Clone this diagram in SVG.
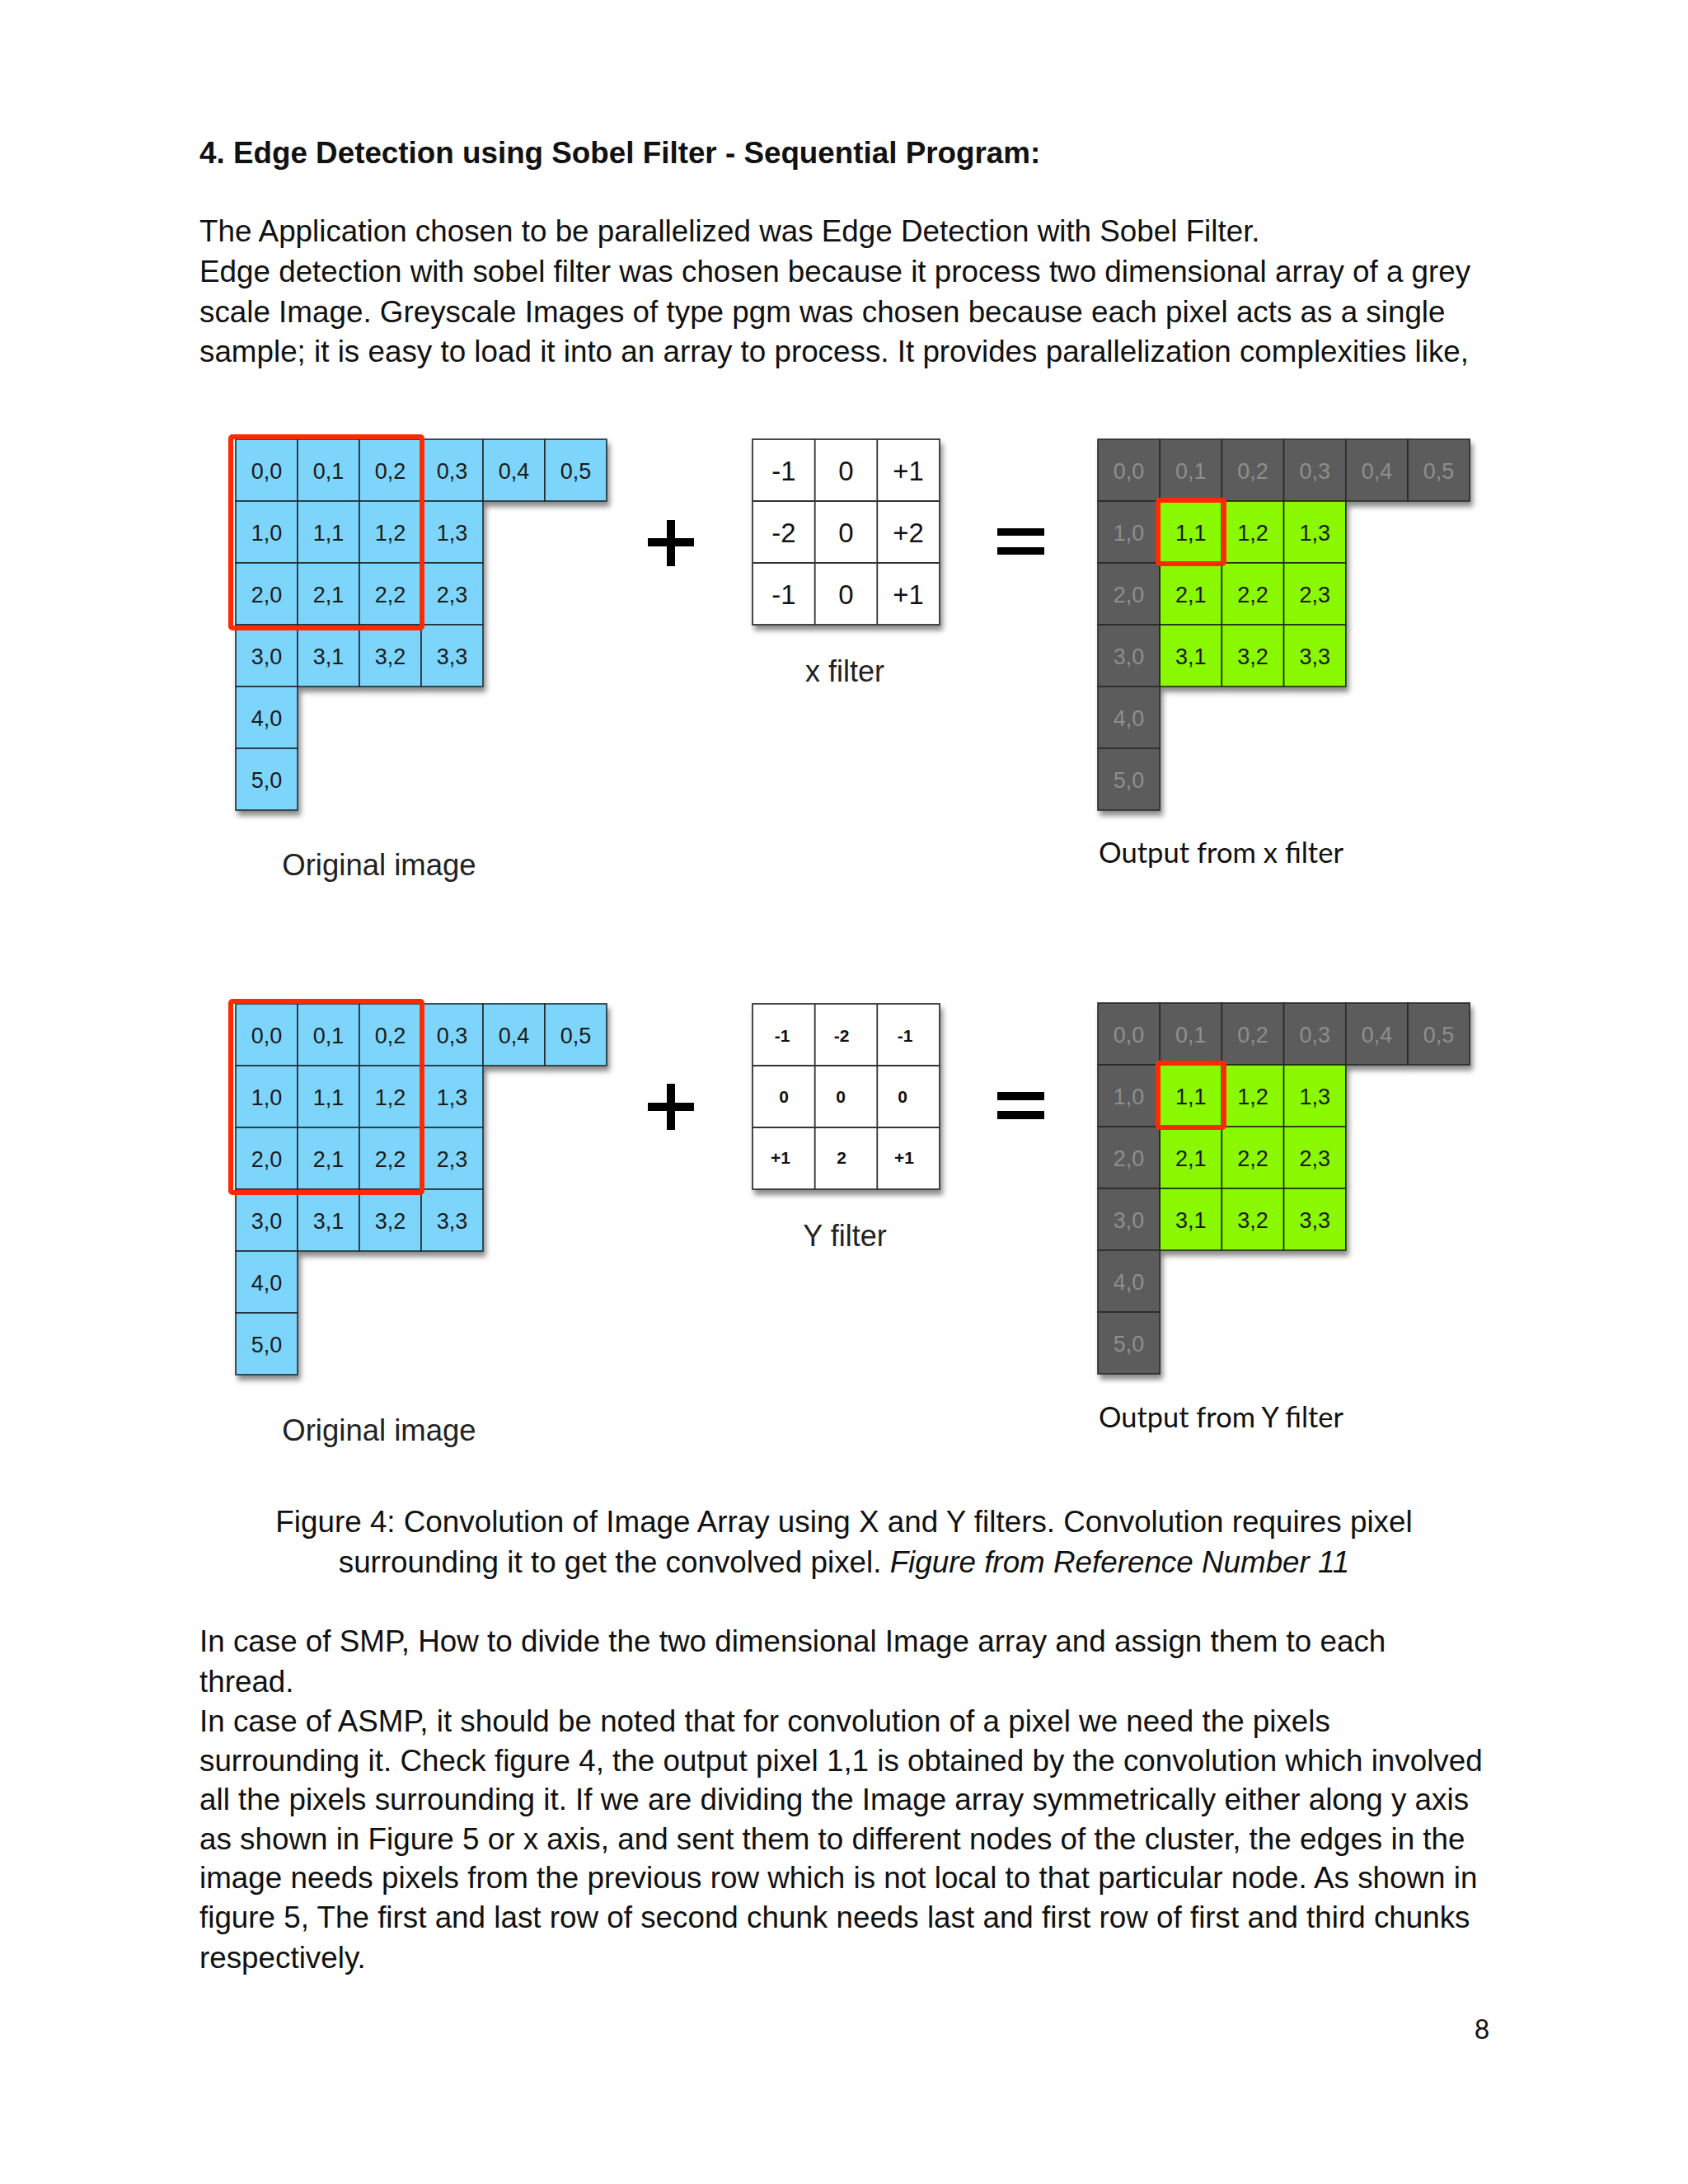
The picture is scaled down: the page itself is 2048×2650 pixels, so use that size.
<svg xmlns="http://www.w3.org/2000/svg" width="2048" height="2650" viewBox="0 0 2048 2650">
<defs>
<style>
.body{font-family:"Liberation Sans",Arial,sans-serif;font-size:36.8px;fill:#111}
.title{font-family:"Liberation Sans",Arial,sans-serif;font-size:36.8px;font-weight:bold;fill:#111}
.b{fill:#7dd5fb;stroke:#1e2a30;stroke-width:1.6}
.g{fill:#5c5c5c;stroke:#2a2a2a;stroke-width:1.6}
.gr{fill:#8af800;stroke:#1e2a10;stroke-width:1.6}
.w{fill:#fff;stroke:#333;stroke-width:1.8}
.ct{font-family:"Liberation Sans",Arial,sans-serif;font-size:27px;fill:#1a1a1a;text-anchor:middle}
.cg{font-family:"Liberation Sans",Arial,sans-serif;font-size:27px;fill:#8e8e8e;text-anchor:middle}
.ft{font-family:"Liberation Sans",Arial,sans-serif;font-size:33px;fill:#111;text-anchor:middle}
.fy{font-family:"Liberation Sans",Arial,sans-serif;font-size:21px;font-weight:bold;fill:#111;text-anchor:middle}
.lab{font-family:"Liberation Sans",Arial,sans-serif;font-size:36.5px;fill:#222;text-anchor:middle}
.olab{font-family:Lato,"Liberation Sans",sans-serif;font-size:34px;fill:#111}
.red{fill:none;stroke:#ff2a00;stroke-width:6}
.sym{fill:#000}
</style>
<filter id="sh" x="-10%" y="-10%" width="125%" height="125%">
<feDropShadow dx="3" dy="6" stdDeviation="3" flood-color="#000" flood-opacity="0.45"/>
</filter>
</defs>
<rect width="2048" height="2650" fill="#ffffff"/>

<g id="text-top">
<text class="title" x="242" y="198">4. Edge Detection using Sobel Filter - Sequential Program:</text>
<text class="body" x="242" y="293">The Application chosen to be parallelized was Edge Detection with Sobel Filter.</text>
<text class="body" x="242" y="342">Edge detection with sobel filter was chosen because it process two dimensional array of a grey</text>
<text class="body" x="242" y="391">scale Image. Greyscale Images of type pgm was chosen because each pixel acts as a single</text>
<text class="body" x="242" y="439">sample; it is easy to load it into an array to process.  It provides parallelization complexities like,</text>
</g>

<!-- Original image (top) -->
<g id="orig1">
<g filter="url(#sh)">
<rect class="b" x="286" y="533" width="75" height="75"/><rect class="b" x="361" y="533" width="75" height="75"/><rect class="b" x="436" y="533" width="75" height="75"/><rect class="b" x="511" y="533" width="75" height="75"/><rect class="b" x="586" y="533" width="75" height="75"/><rect class="b" x="661" y="533" width="75" height="75"/>
<rect class="b" x="286" y="608" width="75" height="75"/><rect class="b" x="361" y="608" width="75" height="75"/><rect class="b" x="436" y="608" width="75" height="75"/><rect class="b" x="511" y="608" width="75" height="75"/>
<rect class="b" x="286" y="683" width="75" height="75"/><rect class="b" x="361" y="683" width="75" height="75"/><rect class="b" x="436" y="683" width="75" height="75"/><rect class="b" x="511" y="683" width="75" height="75"/>
<rect class="b" x="286" y="758" width="75" height="75"/><rect class="b" x="361" y="758" width="75" height="75"/><rect class="b" x="436" y="758" width="75" height="75"/><rect class="b" x="511" y="758" width="75" height="75"/>
<rect class="b" x="286" y="833" width="75" height="75"/>
<rect class="b" x="286" y="908" width="75" height="75"/>
</g>
<text class="ct" x="323.5" y="581">0,0</text><text class="ct" x="398.5" y="581">0,1</text><text class="ct" x="473.5" y="581">0,2</text><text class="ct" x="548.5" y="581">0,3</text><text class="ct" x="623.5" y="581">0,4</text><text class="ct" x="698.5" y="581">0,5</text>
<text class="ct" x="323.5" y="656">1,0</text><text class="ct" x="398.5" y="656">1,1</text><text class="ct" x="473.5" y="656">1,2</text><text class="ct" x="548.5" y="656">1,3</text>
<text class="ct" x="323.5" y="731">2,0</text><text class="ct" x="398.5" y="731">2,1</text><text class="ct" x="473.5" y="731">2,2</text><text class="ct" x="548.5" y="731">2,3</text>
<text class="ct" x="323.5" y="806">3,0</text><text class="ct" x="398.5" y="806">3,1</text><text class="ct" x="473.5" y="806">3,2</text><text class="ct" x="548.5" y="806">3,3</text>
<text class="ct" x="323.5" y="881">4,0</text>
<text class="ct" x="323.5" y="956">5,0</text>
<rect class="red" x="280" y="530" width="232" height="232" rx="2"/>
<text class="lab" x="460" y="1062">Original image</text>
</g>

<g id="plus1"><rect class="sym" x="786" y="653" width="56" height="10"/><rect class="sym" x="809" y="631" width="10" height="56"/></g>

<!-- x filter -->
<g id="xfilter">
<g filter="url(#sh)">
<rect class="w" x="913" y="533" width="227" height="225"/>
</g>
<path d="M988.7 533V758M1064.3 533V758M913 608H1140M913 683H1140" stroke="#333" stroke-width="1.8" fill="none"/>
<text class="ft" x="951" y="583">-1</text><text class="ft" x="1026.5" y="583">0</text><text class="ft" x="1102" y="583">+1</text>
<text class="ft" x="951" y="658">-2</text><text class="ft" x="1026.5" y="658">0</text><text class="ft" x="1102" y="658">+2</text>
<text class="ft" x="951" y="733">-1</text><text class="ft" x="1026.5" y="733">0</text><text class="ft" x="1102" y="733">+1</text>
<text class="lab" x="1025" y="827" style="font-size:36px">x filter</text>
</g>

<g id="eq1"><rect class="sym" x="1210" y="641" width="57" height="9"/><rect class="sym" x="1210" y="664" width="57" height="9"/></g>

<!-- Output from x filter -->
<g id="outx">
<g filter="url(#sh)">
<rect class="g" x="1332" y="533" width="75.2" height="75"/><rect class="g" x="1407.2" y="533" width="75.2" height="75"/><rect class="g" x="1482.4" y="533" width="75.2" height="75"/><rect class="g" x="1557.6" y="533" width="75.2" height="75"/><rect class="g" x="1632.8" y="533" width="75.2" height="75"/><rect class="g" x="1708" y="533" width="75.2" height="75"/>
<rect class="g" x="1332" y="608" width="75.2" height="75"/><rect class="gr" x="1407.2" y="608" width="75.2" height="75"/><rect class="gr" x="1482.4" y="608" width="75.2" height="75"/><rect class="gr" x="1557.6" y="608" width="75.2" height="75"/>
<rect class="g" x="1332" y="683" width="75.2" height="75"/><rect class="gr" x="1407.2" y="683" width="75.2" height="75"/><rect class="gr" x="1482.4" y="683" width="75.2" height="75"/><rect class="gr" x="1557.6" y="683" width="75.2" height="75"/>
<rect class="g" x="1332" y="758" width="75.2" height="75"/><rect class="gr" x="1407.2" y="758" width="75.2" height="75"/><rect class="gr" x="1482.4" y="758" width="75.2" height="75"/><rect class="gr" x="1557.6" y="758" width="75.2" height="75"/>
<rect class="g" x="1332" y="833" width="75.2" height="75"/>
<rect class="g" x="1332" y="908" width="75.2" height="75"/>
</g>
<text class="cg" x="1369.6" y="581">0,0</text><text class="cg" x="1444.8" y="581">0,1</text><text class="cg" x="1520" y="581">0,2</text><text class="cg" x="1595.2" y="581">0,3</text><text class="cg" x="1670.4" y="581">0,4</text><text class="cg" x="1745.6" y="581">0,5</text>
<text class="cg" x="1369.6" y="656">1,0</text><text class="ct" x="1444.8" y="656">1,1</text><text class="ct" x="1520" y="656">1,2</text><text class="ct" x="1595.2" y="656">1,3</text>
<text class="cg" x="1369.6" y="731">2,0</text><text class="ct" x="1444.8" y="731">2,1</text><text class="ct" x="1520" y="731">2,2</text><text class="ct" x="1595.2" y="731">2,3</text>
<text class="cg" x="1369.6" y="806">3,0</text><text class="ct" x="1444.8" y="806">3,1</text><text class="ct" x="1520" y="806">3,2</text><text class="ct" x="1595.2" y="806">3,3</text>
<text class="cg" x="1369.6" y="881">4,0</text>
<text class="cg" x="1369.6" y="956">5,0</text>
<rect class="red" x="1405" y="607" width="80" height="77" rx="2"/>
<text class="olab" x="1333" y="1047" textLength="297" lengthAdjust="spacingAndGlyphs">Output from x filter</text>
</g>

<!-- Original image (bottom) -->
<g id="orig2">
<g filter="url(#sh)">
<rect class="b" x="286" y="1218" width="75" height="75"/><rect class="b" x="361" y="1218" width="75" height="75"/><rect class="b" x="436" y="1218" width="75" height="75"/><rect class="b" x="511" y="1218" width="75" height="75"/><rect class="b" x="586" y="1218" width="75" height="75"/><rect class="b" x="661" y="1218" width="75" height="75"/>
<rect class="b" x="286" y="1293" width="75" height="75"/><rect class="b" x="361" y="1293" width="75" height="75"/><rect class="b" x="436" y="1293" width="75" height="75"/><rect class="b" x="511" y="1293" width="75" height="75"/>
<rect class="b" x="286" y="1368" width="75" height="75"/><rect class="b" x="361" y="1368" width="75" height="75"/><rect class="b" x="436" y="1368" width="75" height="75"/><rect class="b" x="511" y="1368" width="75" height="75"/>
<rect class="b" x="286" y="1443" width="75" height="75"/><rect class="b" x="361" y="1443" width="75" height="75"/><rect class="b" x="436" y="1443" width="75" height="75"/><rect class="b" x="511" y="1443" width="75" height="75"/>
<rect class="b" x="286" y="1518" width="75" height="75"/>
<rect class="b" x="286" y="1593" width="75" height="75"/>
</g>
<text class="ct" x="323.5" y="1266">0,0</text><text class="ct" x="398.5" y="1266">0,1</text><text class="ct" x="473.5" y="1266">0,2</text><text class="ct" x="548.5" y="1266">0,3</text><text class="ct" x="623.5" y="1266">0,4</text><text class="ct" x="698.5" y="1266">0,5</text>
<text class="ct" x="323.5" y="1341">1,0</text><text class="ct" x="398.5" y="1341">1,1</text><text class="ct" x="473.5" y="1341">1,2</text><text class="ct" x="548.5" y="1341">1,3</text>
<text class="ct" x="323.5" y="1416">2,0</text><text class="ct" x="398.5" y="1416">2,1</text><text class="ct" x="473.5" y="1416">2,2</text><text class="ct" x="548.5" y="1416">2,3</text>
<text class="ct" x="323.5" y="1491">3,0</text><text class="ct" x="398.5" y="1491">3,1</text><text class="ct" x="473.5" y="1491">3,2</text><text class="ct" x="548.5" y="1491">3,3</text>
<text class="ct" x="323.5" y="1566">4,0</text>
<text class="ct" x="323.5" y="1641">5,0</text>
<rect class="red" x="280" y="1215" width="232" height="232" rx="2"/>
<text class="lab" x="460" y="1748">Original image</text>
</g>

<g id="plus2"><rect class="sym" x="786" y="1338" width="56" height="10"/><rect class="sym" x="809" y="1315" width="10" height="56"/></g>

<!-- Y filter -->
<g id="yfilter">
<g filter="url(#sh)">
<rect class="w" x="913" y="1218" width="227" height="225"/>
</g>
<path d="M988.7 1218V1443M1064.3 1218V1443M913 1293H1140M913 1368H1140" stroke="#333" stroke-width="1.8" fill="none"/>
<text class="fy" x="949" y="1264">-1</text><text class="fy" x="1021" y="1264">-2</text><text class="fy" x="1098" y="1264">-1</text>
<text class="fy" x="951" y="1338">0</text><text class="fy" x="1020" y="1338">0</text><text class="fy" x="1095" y="1338">0</text>
<text class="fy" x="947" y="1412">+1</text><text class="fy" x="1021" y="1412">2</text><text class="fy" x="1097" y="1412">+1</text>
<text class="lab" x="1025" y="1512" style="font-size:36px">Y filter</text>
</g>

<g id="eq2"><rect class="sym" x="1210" y="1325" width="57" height="10"/><rect class="sym" x="1210" y="1348" width="57" height="10"/></g>

<!-- Output from Y filter -->
<g id="outy">
<g filter="url(#sh)">
<rect class="g" x="1332" y="1217" width="75.2" height="75"/><rect class="g" x="1407.2" y="1217" width="75.2" height="75"/><rect class="g" x="1482.4" y="1217" width="75.2" height="75"/><rect class="g" x="1557.6" y="1217" width="75.2" height="75"/><rect class="g" x="1632.8" y="1217" width="75.2" height="75"/><rect class="g" x="1708" y="1217" width="75.2" height="75"/>
<rect class="g" x="1332" y="1292" width="75.2" height="75"/><rect class="gr" x="1407.2" y="1292" width="75.2" height="75"/><rect class="gr" x="1482.4" y="1292" width="75.2" height="75"/><rect class="gr" x="1557.6" y="1292" width="75.2" height="75"/>
<rect class="g" x="1332" y="1367" width="75.2" height="75"/><rect class="gr" x="1407.2" y="1367" width="75.2" height="75"/><rect class="gr" x="1482.4" y="1367" width="75.2" height="75"/><rect class="gr" x="1557.6" y="1367" width="75.2" height="75"/>
<rect class="g" x="1332" y="1442" width="75.2" height="75"/><rect class="gr" x="1407.2" y="1442" width="75.2" height="75"/><rect class="gr" x="1482.4" y="1442" width="75.2" height="75"/><rect class="gr" x="1557.6" y="1442" width="75.2" height="75"/>
<rect class="g" x="1332" y="1517" width="75.2" height="75"/>
<rect class="g" x="1332" y="1592" width="75.2" height="75"/>
</g>
<text class="cg" x="1369.6" y="1265">0,0</text><text class="cg" x="1444.8" y="1265">0,1</text><text class="cg" x="1520" y="1265">0,2</text><text class="cg" x="1595.2" y="1265">0,3</text><text class="cg" x="1670.4" y="1265">0,4</text><text class="cg" x="1745.6" y="1265">0,5</text>
<text class="cg" x="1369.6" y="1340">1,0</text><text class="ct" x="1444.8" y="1340">1,1</text><text class="ct" x="1520" y="1340">1,2</text><text class="ct" x="1595.2" y="1340">1,3</text>
<text class="cg" x="1369.6" y="1415">2,0</text><text class="ct" x="1444.8" y="1415">2,1</text><text class="ct" x="1520" y="1415">2,2</text><text class="ct" x="1595.2" y="1415">2,3</text>
<text class="cg" x="1369.6" y="1490">3,0</text><text class="ct" x="1444.8" y="1490">3,1</text><text class="ct" x="1520" y="1490">3,2</text><text class="ct" x="1595.2" y="1490">3,3</text>
<text class="cg" x="1369.6" y="1565">4,0</text>
<text class="cg" x="1369.6" y="1640">5,0</text>
<rect class="red" x="1405" y="1290" width="80" height="78" rx="2"/>
<text class="olab" x="1333" y="1732" textLength="297" lengthAdjust="spacingAndGlyphs">Output from Y filter</text>
</g>

<g id="caption">
<text class="body" x="1024" y="1859" text-anchor="middle">Figure 4: Convolution of Image Array using X and Y filters. Convolution requires pixel</text>
<text class="body" x="1024" y="1908" text-anchor="middle">surrounding it to get the convolved pixel. <tspan font-style="italic">Figure from Reference Number 11</tspan></text>
</g>

<g id="text-bottom">
<text class="body" x="242" y="2004">In case of SMP, How to divide the two dimensional Image array and assign them to each</text>
<text class="body" x="242" y="2053">thread.</text>
<text class="body" x="242" y="2101">In case of ASMP, it should be noted that for convolution of a pixel we need the pixels</text>
<text class="body" x="242" y="2149">surrounding it. Check figure 4, the output pixel 1,1 is obtained by the convolution which involved</text>
<text class="body" x="242" y="2196">all the pixels surrounding it. If we are dividing the Image array symmetrically either along y axis</text>
<text class="body" x="242" y="2244">as shown in Figure 5 or x axis, and sent them to different nodes of the cluster, the edges in the</text>
<text class="body" x="242" y="2291">image needs pixels from the previous row which is not local to that particular node. As shown in</text>
<text class="body" x="242" y="2339">figure 5, The first and last row of second chunk needs last and first row of first and third chunks</text>
<text class="body" x="242" y="2388">respectively.</text>
</g>

<text x="1798" y="2474" text-anchor="middle" style="font-family:Lato,'Liberation Sans',sans-serif;font-size:32px;fill:#111">8</text>
</svg>
